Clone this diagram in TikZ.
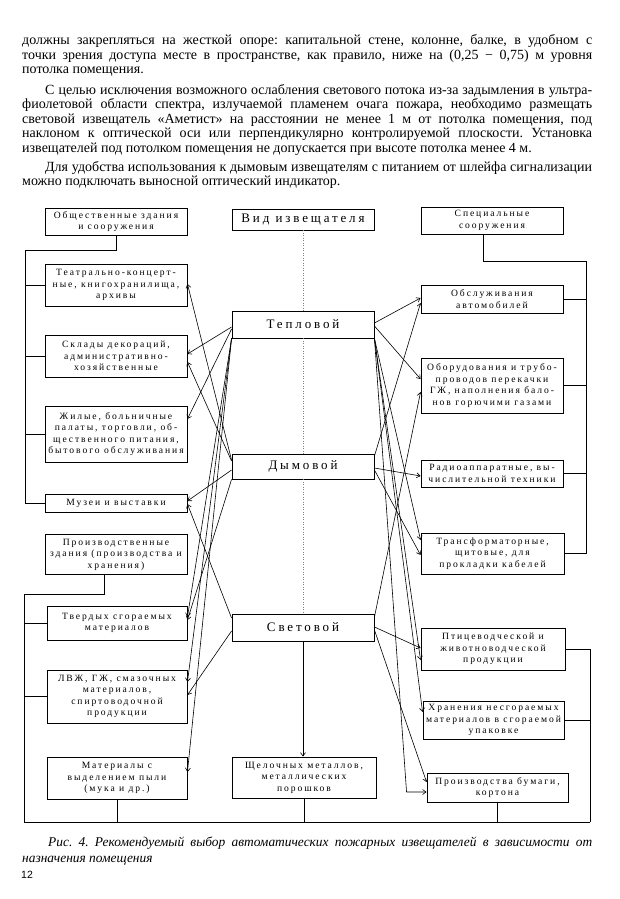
\documentclass[tikz,border=0pt]{standalone}
\usepackage{fontspec}
\setmainfont{Liberation Serif}
\newfontfamily\bxf[LetterSpace=20]{Liberation Serif}
\newfontfamily\dtf[LetterSpace=22]{Liberation Serif}
\newfontfamily\pgf{Liberation Sans}
\usetikzlibrary{arrows.meta}
\frenchspacing
\tikzset{
  bx/.style={draw, line width=0.9pt, inner sep=0pt, align=center,
    font=\bxf\fontsize{9.6}{11.5}\selectfont},
  dt/.style={draw, line width=0.9pt, inner sep=0pt, align=center,
    font=\dtf\fontsize{13}{15}\selectfont},
  ln/.style={line width=0.8pt},
  arr/.style={line width=0.6pt, -{Straight Barb[length=3.5pt,width=5pt]}},
  dotline/.style={dotted, line width=0.5pt, gray},
  txt/.style={anchor=base west, inner sep=0pt, font=\fontsize{14}{15}\selectfont\frenchspacing},
  captxt/.style={anchor=base west, inner sep=0pt, font=\itshape\fontsize{13.4}{14}\selectfont\frenchspacing}
}
\begin{document}
\begin{tikzpicture}[x=1pt,y=-1pt]
\fill[white] (0,0) rectangle (620,899);
\useasboundingbox (0,0) rectangle (620,899);

% ---- text ----
\node[txt] (t1) at (22,45) {\makebox[570pt][s]{должны закрепляться на жесткой опоре: капитальной стене, колонне, балке, в удобном с}};
\node[txt] (t2) at (22,59.5) {\makebox[570pt][s]{точки зрения доступа месте в пространстве, как правило, ниже на (0,25 − 0,75) м уровня}};
\node[txt] (t3) at (22,74) {потолка помещения.};
\node[txt] (t4) at (45,94) {\makebox[547pt][s]{С целью исключения возможного ослабления светового потока из-за задымления в ультра-}};
\node[txt] (t5) at (22,108.5) {\makebox[570pt][s]{фиолетовой области спектра, излучаемой пламенем очага пожара, необходимо размещать}};
\node[txt] (t6) at (22,123) {\makebox[570pt][s]{световой извещатель «Аметист» на расстоянии не менее 1 м от потолка помещения, под}};
\node[txt] (t7) at (22,137.5) {\makebox[570pt][s]{наклоном к оптической оси или перпендикулярно контролируемой плоскости. Установка}};
\node[txt] (t8) at (22,152) {извещателей под потолком помещения не допускается при высоте потолка менее 4 м.};
\node[txt] (t9) at (45,171) {\makebox[547pt][s]{Для удобства использования к дымовым извещателям с питанием от шлейфа сигнализации}};
\node[txt] (t10) at (22,185.5) {можно подключать выносной оптический индикатор.};

% ---- left boxes ----
\node[bx, minimum width=142pt, minimum height=27pt] (L0) at (116,221.5) {Общественные здания\\и сооружения};
\node[bx, minimum width=142pt, minimum height=42pt] (L1) at (116,285) {Театрально-концерт-\\ные, книгохранилища,\\архивы};
\node[bx, minimum width=142pt, minimum height=42pt] (L2) at (116,356) {Склады декораций,\\административно-\\хозяйственные};
\node[bx, minimum width=142pt, minimum height=56pt] (L3) at (116,434) {Жилые, больничные\\палаты, торговли, об-\\щественного питания,\\бытового обслуживания};
\node[bx, minimum width=142pt, minimum height=18pt] (L4) at (116,503) {Музеи и выставки};
\node[bx, minimum width=142pt, minimum height=40pt] (L5) at (116,554.5) {Производственные\\здания (производства и\\хранения)};
\node[bx, minimum width=140pt, minimum height=34pt] (L6) at (117,623) {Твердых сгораемых\\материалов};
\node[bx, minimum width=140pt, minimum height=53pt] (L7) at (117,696.5) {ЛВЖ, ГЖ, смазочных\\материалов,\\спиртоводочной\\продукции};
\node[bx, minimum width=140pt, minimum height=42pt] (L8) at (117,778) {Материалы с\\выделением пыли\\(мука и др.)};

% ---- centre boxes ----
\node[dt, minimum width=142pt, minimum height=21pt] (C0) at (303,219.5) {Вид извещателя};
\node[dt, minimum width=142pt, minimum height=27pt] (T) at (303,324.5) {Тепловой};
\node[dt, minimum width=142pt, minimum height=25pt] (D) at (303,466.5) {Дымовой};
\node[dt, minimum width=142pt, minimum height=27pt] (S) at (303,627.5) {Световой};
\node[bx, minimum width=144pt, minimum height=41pt] (C4) at (304,777.5) {Щелочных металлов,\\металлических\\порошков};

% ---- right boxes ----
\node[bx, minimum width=142pt, minimum height=27pt] (R0) at (492,220.5) {Специальные\\сооружения};
\node[bx, minimum width=142pt, minimum height=28pt] (R1) at (492,299) {Обслуживания\\автомобилей};
\node[bx, minimum width=142pt, minimum height=55pt] (R2) at (492,385.5) {Оборудования и трубо-\\проводов перекачки\\ГЖ, наполнения бало-\\нов горючими газами};
\node[bx, minimum width=142pt, minimum height=27pt] (R3) at (492,473.5) {Радиоаппаратные, вы-\\числительной техники};
\node[bx, minimum width=143pt, minimum height=41pt] (R4) at (492.5,553.5) {Трансформаторные,\\щитовые, для\\прокладки кабелей};
\node[bx, minimum width=144pt, minimum height=42pt] (R5) at (493,649) {Птицеводческой и\\животноводческой\\продукции};
\node[bx, minimum width=141pt, minimum height=38pt] (R6) at (493.5,720) {Хранения несгораемых\\материалов в сгораемой\\упаковке};
\node[bx, minimum width=141pt, minimum height=29pt] (R7) at (497.5,787.5) {Производства бумаги,\\кортона};

% ---- page text below ----
\node[captxt] (c1) at (48,846) {\makebox[544pt][s]{Рис. 4. Рекомендуемый выбор автоматических пожарных извещателей в зависимости от}};
\node[captxt] (c2) at (22,862.5) {назначения помещения};
\node[anchor=base west, inner sep=0pt, font=\pgf\fontsize{10.5}{12}\selectfont] (pg) at (21,878) {12};

% ---- tree connectors ----
\coordinate (lt) at (25,250);
\coordinate (lb) at (24,594);
\coordinate (bl) at (24,822);
\coordinate (br) at (590,822);
\coordinate (rt) at (586,261);
\draw[ln] (L0.south) |- (lt) -- (lt |- L4.west) -- (L4.west);
\draw[ln] (lt |- L1.west) -- (L1.west);
\draw[ln] (lt |- L2.west) -- (L2.west);
\draw[ln] (lt |- L3.west) -- (L3.west);
\draw[ln] ([xshift=-12pt]L5.south) |- (lb) -- (bl) -- (br);
\draw[ln] (lb |- L6.west) -- (L6.west);
\draw[ln] (lb |- L7.west) -- (L7.west);
\draw[ln] (L8.south) -- (L8.south |- bl);
\draw[ln] (C4.south) -- (C4.south |- bl);
\draw[ln] (R7.south) -- (R7.south |- bl);
\draw[ln] ([xshift=-9pt]R0.south) |- (rt) -- (rt |- R4.east) -- (R4.east);
\draw[ln] (rt |- R1.east) -- (R1.east);
\draw[ln] (rt |- R2.east) -- (R2.east);
\draw[ln] (rt |- R3.east) -- (R3.east);
\draw[ln] (R5.east) -| (br);
\draw[ln] (R6.east) -- (R6.east -| br);

% ---- centre axis ----
\draw[dotline] (C0.south) -- (T.north);
\draw[dotline] (T.south) -- (D.north);
\draw[dotline] (D.south) -- (S.north);
\draw[arr] (S.south) -- (S.south |- C4.north);

% ---- arrows to the left ----
\draw[arr] ([yshift=-2.5pt]T.west) -- ([yshift=2pt]L2.east);
\draw[arr] ([yshift=-4.5pt]T.west) -- ([yshift=15pt]L3.east);
\draw[arr] (T.south west) -- ([yshift=6pt]L6.east);
\draw[arr] (T.south west) -- ([yshift=14.5pt]L7.east);
\draw[arr] (T.south west) -- ([yshift=6pt]L8.east);
\draw[arr] ([yshift=6.5pt]D.west) -- ([yshift=1pt]L1.east);
\draw[arr] ([yshift=5.5pt]D.west) -- ([yshift=-6pt]L2.east);
\draw[arr] ([yshift=-3.5pt]D.west) -- ([yshift=2pt]L4.east);
\draw[arr] (D.south west) -- ([yshift=3pt]L6.east);
\draw[arr] ([yshift=9.5pt]S.west) -- ([yshift=-1pt]L4.east);
\draw[arr] ([yshift=-3.5pt]S.west) -- ([yshift=1.5pt]L7.east);

% ---- arrows to the right ----
\draw[arr] ([yshift=1.5pt]T.east) -- ([yshift=1pt]R1.west);
\draw[arr] ([yshift=-1.5pt]T.east) -- ([yshift=6.5pt]R2.west);
\draw[arr] (T.south east) -- ([yshift=13.5pt]R4.west);
\draw[arr] (T.south east) -- ([yshift=-11pt]R5.west);
\draw[arr] (T.south east) -- ([yshift=8pt]R6.west);
\draw[arr] (T.south east) -- ([xshift=-20pt,yshift=-4.5pt]R7.west) -- ([yshift=-4.5pt]R7.west);
\draw[arr] ([yshift=10.5pt]D.east) -- ([yshift=-4pt]R1.west);
\draw[arr] ([yshift=-1.5pt]D.east) -- ([yshift=-2.5pt]R3.west);
\draw[arr] ([yshift=-3.5pt]D.east) -- ([yshift=-1.5pt]R4.west);
\draw[arr] ([yshift=10.5pt]S.east) -- ([yshift=-6.5pt]R2.west);
\draw[arr] ([yshift=0.5pt]S.east) -- ([yshift=1pt]R5.west);
\draw[arr] ([yshift=-2.5pt]S.east) -- ([yshift=5.5pt]R7.west);
\end{tikzpicture}
\end{document}
